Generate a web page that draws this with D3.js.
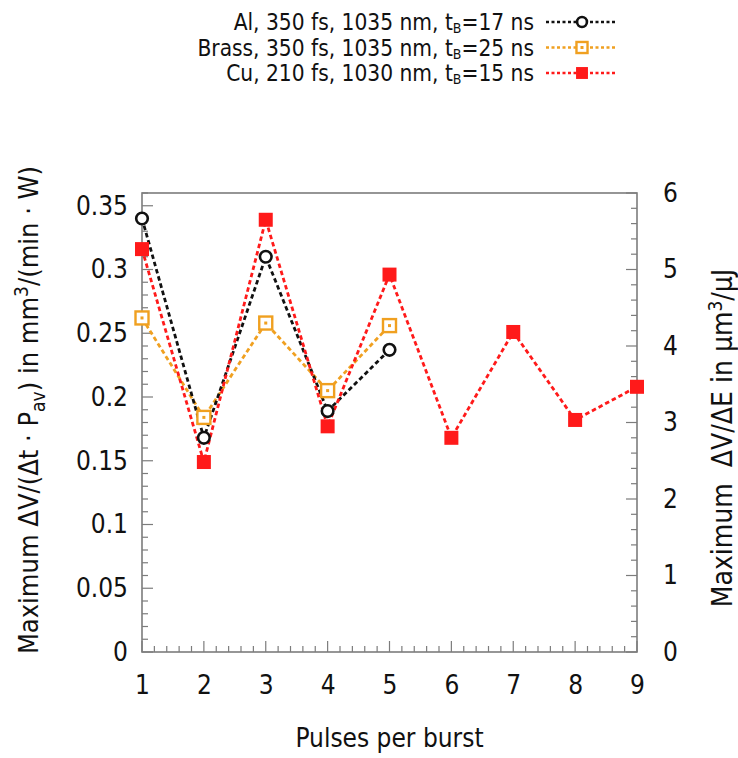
<!DOCTYPE html>
<html>
<head>
<meta charset="utf-8">
<script src="https://cdn.jsdelivr.net/npm/d3@7"></script>
<style>
  body { margin: 0; background: #fff; }
  svg text { font-family: "DejaVu Sans Condensed", "DejaVu Sans", sans-serif; fill: #111; }
</style>
</head>
<body>
<svg id="chart" width="738" height="758"></svg>
<script>
// Pulses per burst
const pulses = [1, 2, 3, 4, 5, 6, 7, 8, 9];

// Maximum ΔV/(Δt·Pav) in mm³/(min·W)
const alValues    = [0.340, 0.168, 0.310, 0.189, 0.237];
const brassValues = [0.262, 0.184, 0.258, 0.205, 0.256];
const cuValues    = [0.316, 0.149, 0.339, 0.177, 0.296, 0.168, 0.251, 0.182, 0.208];

const seriesNames = [
  "Al, 350 fs, 1035 nm, t_B=17 ns",
  "Brass, 350 fs, 1035 nm, t_B=25 ns",
  "Cu, 210 fs, 1030 nm, t_B=15 ns"
];

const leftTicks  = [0, 0.05, 0.1, 0.15, 0.2, 0.25, 0.3, 0.35];
const rightTicks = [0, 1, 2, 3, 4, 5, 6];

const svg = d3.select("#chart");
const m = { left: 142, right: 637, top: 193, bottom: 652 };

const x = d3.scaleLinear().domain([1, 9]).range([m.left, m.right]);
const y = d3.scaleLinear().domain([0, 0.36]).range([m.bottom, m.top]);
const y2 = d3.scaleLinear().domain([0, 6]).range([m.bottom, m.top]);

const frameColor = "#7c7c7c";
const g = svg.append("g");

// inward tick marks: left (0.01 steps), right (0.2 steps), bottom (0.2 steps)
d3.range(0, 0.3601, 0.01).forEach((v, i) => {
  const major = i % 5 === 0;
  const yy = y(v);
  g.append("line").attr("x1", m.left).attr("x2", m.left + (major ? 11 : 6))
    .attr("y1", yy).attr("y2", yy).attr("stroke", frameColor).attr("stroke-width", 1.2);
});
d3.range(0, 6.001, 0.2).forEach((v, i) => {
  const major = i % 5 === 0;
  const yy = y2(v);
  g.append("line").attr("x1", m.right).attr("x2", m.right - (major ? 11 : 6))
    .attr("y1", yy).attr("y2", yy).attr("stroke", frameColor).attr("stroke-width", 1.2);
});
d3.range(1, 9.001, 0.2).forEach((v, i) => {
  const major = i % 5 === 0;
  const xx = x(v);
  g.append("line").attr("x1", xx).attr("x2", xx)
    .attr("y1", m.bottom).attr("y2", m.bottom - (major ? 11 : 6))
    .attr("stroke", frameColor).attr("stroke-width", 1.2);
});

// frame
svg.append("rect").attr("x", m.left).attr("y", m.top)
  .attr("width", m.right - m.left).attr("height", m.bottom - m.top)
  .attr("fill", "none").attr("stroke", frameColor).attr("stroke-width", 1.6);

// tick labels through d3 axes (marks drawn above)
const fs = 26;
const leftAxis = svg.append("g").attr("transform", `translate(${m.left},0)`)
  .call(d3.axisLeft(y).tickValues(leftTicks).tickSize(0).tickPadding(14).tickFormat(d => String(+d.toFixed(2))));
const rightAxis = svg.append("g").attr("transform", `translate(${m.right},0)`)
  .call(d3.axisRight(y2).tickValues(rightTicks).tickSize(0).tickPadding(26).tickFormat(d3.format("d")));
const bottomAxis = svg.append("g").attr("transform", `translate(0,${m.bottom})`)
  .call(d3.axisBottom(x).tickValues(pulses).tickSize(0).tickPadding(24).tickFormat(d3.format("d")));
[leftAxis, rightAxis, bottomAxis].forEach(a => {
  a.select(".domain").remove();
  a.selectAll("text").attr("font-size", fs).attr("fill", "#111")
    .style("font-family", '"DejaVu Sans Condensed", sans-serif');
});

// axis titles
const yTitle = svg.append("text")
  .attr("transform", `translate(38,410) rotate(-90)`)
  .attr("text-anchor", "middle").attr("font-size", 27);
yTitle.append("tspan").text("Maximum ΔV/(Δt · P");
yTitle.append("tspan").attr("font-size", 19).attr("dy", 7).text("av");
yTitle.append("tspan").attr("dy", -7).text(") in mm");
yTitle.append("tspan").attr("font-size", 19).attr("dy", -10).text("3");
yTitle.append("tspan").attr("dy", 10).text("/(min · W)");

const y2Title = svg.append("text")
  .attr("transform", `translate(732,438) rotate(-90)`)
  .attr("text-anchor", "middle").attr("font-size", 28);
y2Title.append("tspan").attr("xml:space", "preserve").text("Maximum  ΔV/ΔE in µm");
y2Title.append("tspan").attr("font-size", 19).attr("dy", -10).text("3");
y2Title.append("tspan").attr("dy", 10).text("/µJ");

svg.append("text").attr("x", (m.left + m.right) / 2).attr("y", 747)
  .attr("text-anchor", "middle").attr("font-size", 26).text("Pulses per burst");

// series
const series = [
  { name: seriesNames[0], values: alValues, color: "#111111", marker: "circle" },
  { name: seriesNames[1], values: brassValues, color: "#f0a020", marker: "openSquare" },
  { name: seriesNames[2], values: cuValues, color: "#ff1a1a", marker: "filledSquare" }
];

const line = d3.line().x((d, i) => x(pulses[i])).y(d => y(d));

function drawMarker(sel, type, color, cx, cy, k = 1) {
  if (type === "circle") {
    sel.append("circle").attr("cx", cx).attr("cy", cy).attr("r", 5.8 * k)
      .attr("fill", "#fff").attr("stroke", color).attr("stroke-width", 2.6);
  } else if (type === "openSquare") {
    const h = 6.5 * k;
    sel.append("rect").attr("x", cx - h).attr("y", cy - h).attr("width", 2 * h).attr("height", 2 * h)
      .attr("fill", "#fff").attr("stroke", color).attr("stroke-width", 2.4);
    sel.append("rect").attr("x", cx - 1.5).attr("y", cy - 1.5).attr("width", 3).attr("height", 3)
      .attr("fill", color);
  } else {
    const h = 7 * k;
    sel.append("rect").attr("x", cx - h).attr("y", cy - h).attr("width", 2 * h).attr("height", 2 * h)
      .attr("fill", color);
  }
}

// lines: Brass beneath, then Al, then Cu on top
[series[1], series[0], series[2]].forEach(s => {
  svg.append("path").datum(s.values).attr("d", line)
    .attr("fill", "none").attr("stroke", s.color).attr("stroke-width", 2.8)
    .attr("stroke-dasharray", "4.5,3");
});
[series[1], series[0], series[2]].forEach(s => {
  const mg = svg.append("g");
  s.values.forEach((v, i) => drawMarker(mg, s.marker, s.color, x(pulses[i]), y(v)));
});

// legend
series.forEach((s, i) => {
  const ly = 22 + i * 25.5;
  const t = svg.append("text").attr("x", 534).attr("y", ly + 8)
    .attr("text-anchor", "end").attr("font-size", 22.5);
  const parts = s.name.split("t_B");
  t.append("tspan").text(parts[0] + "t");
  t.append("tspan").attr("font-size", 14).attr("dy", 3).text("B");
  t.append("tspan").attr("dy", -3).text(parts[1]);
  svg.append("line").attr("x1", 546).attr("x2", 616).attr("y1", ly).attr("y2", ly)
    .attr("stroke", s.color).attr("stroke-width", 2.6).attr("stroke-dasharray", "3,2.5");
  drawMarker(svg.append("g"), s.marker, s.color, 582, ly, 0.85);
});
</script>
</body>
</html>
